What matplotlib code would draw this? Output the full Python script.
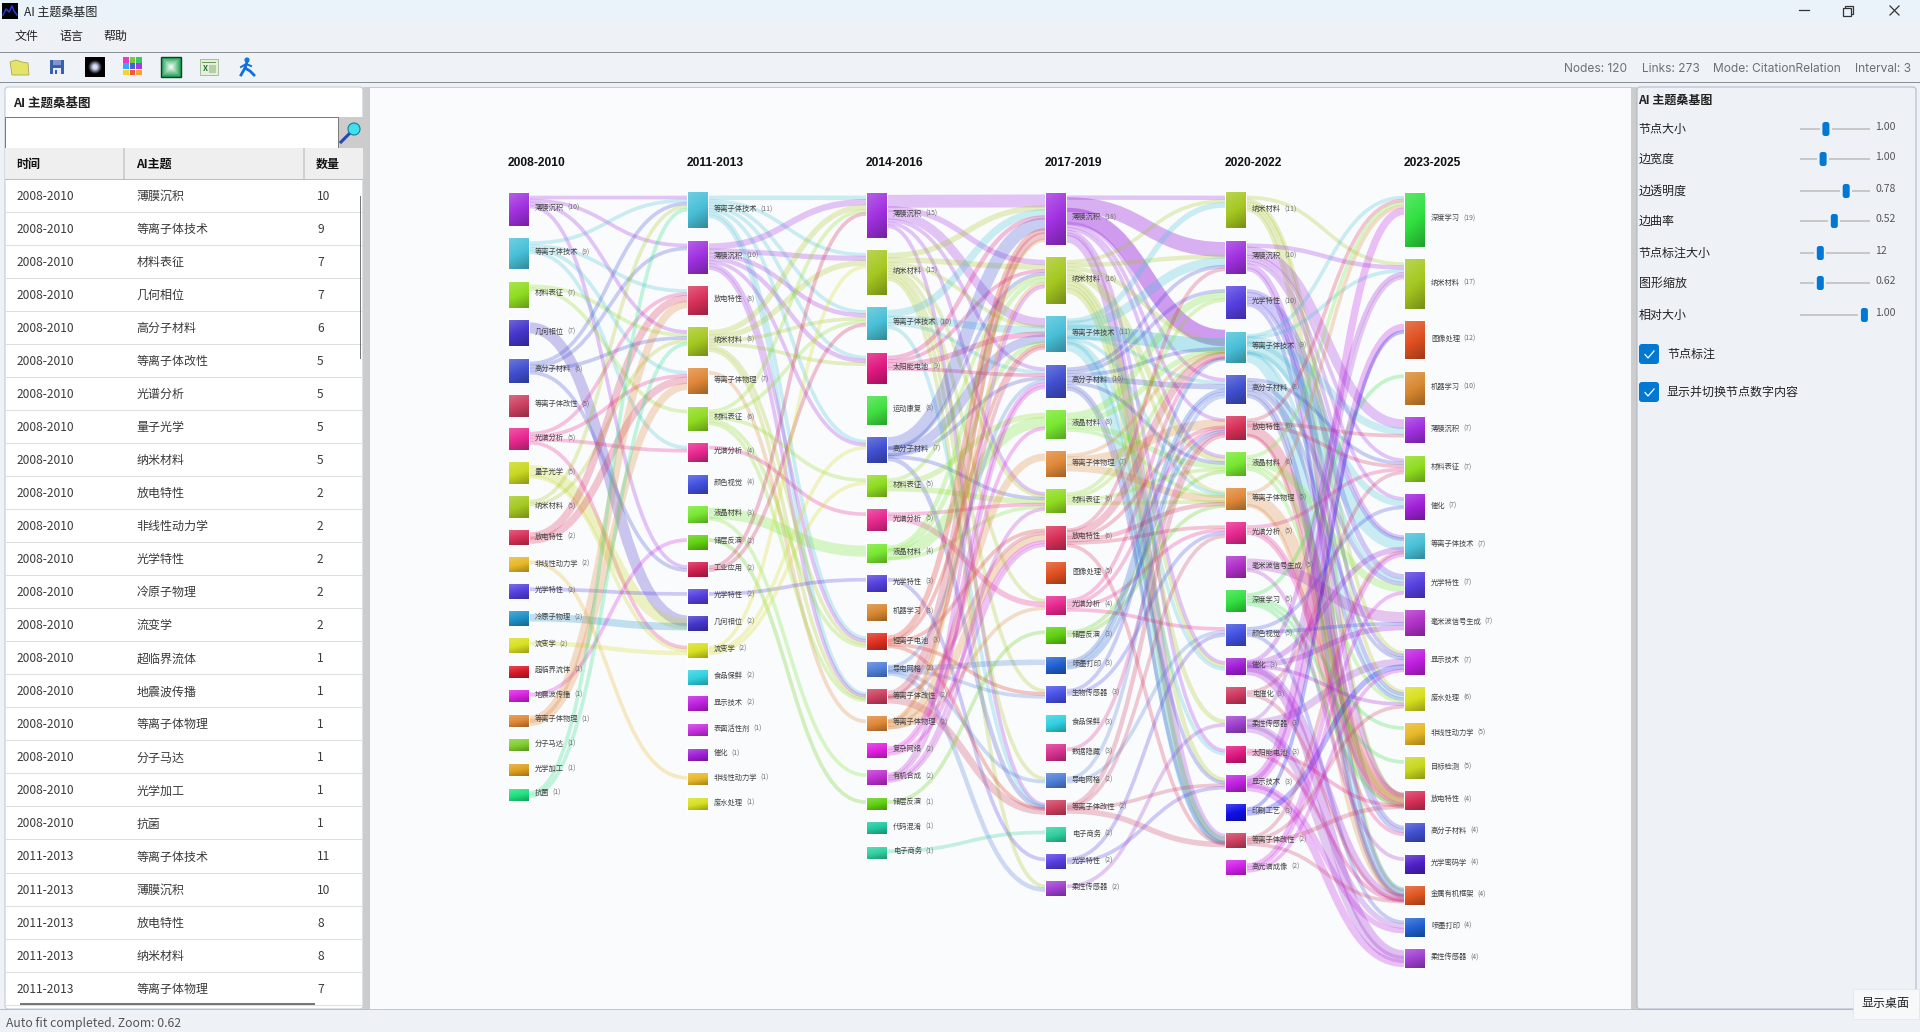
import numpy as np
import matplotlib
matplotlib.use('Agg')
import matplotlib.pyplot as plt
from matplotlib.patches import Rectangle, FancyBboxPatch, PathPatch, Circle, Polygon
from matplotlib.path import Path
from matplotlib.colors import to_rgb

plt.rcParams['font.family'] = ['Noto Sans CJK SC', 'DejaVu Sans']

# ---------- data ----------
periods = ['2008-2010', '2011-2013', '2014-2016', '2017-2019', '2020-2022', '2023-2025']

names_1 = ['薄膜沉积', '等离子体技术', '材料表征', '几何相位', '高分子材料', '等离子体改性', '光谱分析', '量子光学', '纳米材料', '放电特性',
           '非线性动力学', '光学特性', '冷原子物理', '流变学', '超临界流体', '地震波传播', '等离子体物理', '分子马达', '光学加工', '抗菌']
vals_1 = [10, 9, 7, 7, 6, 5, 5, 5, 5, 2, 2, 2, 2, 2, 1, 1, 1, 1, 1, 1]
names_2 = ['等离子体技术', '薄膜沉积', '放电特性', '纳米材料', '等离子体物理', '材料表征', '光谱分析', '颜色视觉', '液晶材料', '储层反演',
           '工业应用', '光学特性', '几何相位', '流变学', '食品保鲜', '显示技术', '表面活性剂', '催化', '非线性动力学', '废水处理']
vals_2 = [11, 10, 8, 8, 7, 6, 4, 4, 3, 2, 2, 2, 2, 2, 2, 2, 1, 1, 1, 1]
names_3 = ['薄膜沉积', '纳米材料', '等离子体技术', '太阳能电池', '运动康复', '高分子材料', '材料表征', '光谱分析', '液晶材料', '光学特性',
           '机器学习', '锂离子电池', '导电网格', '等离子体改性', '等离子体物理', '复杂网络', '有机合成', '储层反演', '代码混淆', '电子商务']
vals_3 = [15, 15, 10, 9, 8, 7, 5, 5, 4, 3, 3, 3, 2, 2, 2, 2, 2, 1, 1, 1]
names_4 = ['薄膜沉积', '纳米材料', '等离子体技术', '高分子材料', '液晶材料', '等离子体物理', '材料表征', '放电特性', '图像处理', '光谱分析',
           '储层反演', '喷墨打印', '生物传感器', '食品保鲜', '数据隐藏', '导电网格', '等离子体改性', '电子商务', '光学特性', '柔性传感器']
vals_4 = [18, 16, 11, 10, 8, 7, 6, 6, 5, 4, 3, 3, 3, 3, 3, 2, 2, 2, 2, 2]
names_5 = ['纳米材料', '薄膜沉积', '光学特性', '等离子体技术', '高分子材料', '放电特性', '液晶材料', '等离子体物理', '光谱分析', '毫米波信号生成',
           '深度学习', '颜色视觉', '催化', '电催化', '柔性传感器', '太阳能电池', '显示技术', '印刷工艺', '等离子体改性', '高光谱成像']
vals_5 = [11, 10, 10, 9, 8, 6, 6, 5, 5, 5, 5, 5, 3, 3, 3, 3, 3, 3, 2, 2]
names_6 = ['深度学习', '纳米材料', '图像处理', '机器学习', '薄膜沉积', '材料表征', '催化', '等离子体技术', '光学特性', '毫米波信号生成',
           '显示技术', '废水处理', '非线性动力学', '目标检测', '放电特性', '高分子材料', '光学密码学', '金属有机框架', '喷墨打印', '柔性传感器']
vals_6 = [19, 17, 12, 10, 7, 7, 7, 7, 7, 7, 7, 6, 5, 5, 4, 4, 4, 4, 4, 4]

links_12 = [
    ('薄膜沉积', '等离子体技术', 1), ('薄膜沉积', '薄膜沉积', 1), ('薄膜沉积', '纳米材料', 1), ('薄膜沉积', '工业应用', 1),
    ('等离子体技术', '等离子体技术', 1), ('等离子体技术', '放电特性', 1), ('等离子体技术', '等离子体物理', 1), ('等离子体技术', '光谱分析', 1),
    ('材料表征', '纳米材料', 1), ('材料表征', '材料表征', 1), ('几何相位', '几何相位', 3),
    ('高分子材料', '等离子体技术', 1), ('高分子材料', '薄膜沉积', 1), ('高分子材料', '纳米材料', 1), ('高分子材料', '工业应用', 1),
    ('光谱分析', '放电特性', 1), ('光谱分析', '等离子体物理', 1), ('光谱分析', '光谱分析', 1), ('光谱分析', '流变学', 1),
    ('量子光学', '几何相位', 3), ('量子光学', '流变学', 1),
    ('纳米材料', '等离子体技术', 1), ('纳米材料', '纳米材料', 1),
    ('放电特性', '放电特性', 2), ('放电特性', '等离子体物理', 2),
    ('非线性动力学', '非线性动力学', 1), ('光学特性', '光学特性', 1), ('冷原子物理', '几何相位', 2), ('流变学', '流变学', 1.2),
    ('地震波传播', '储层反演', 1), ('等离子体物理', '放电特性', 2), ('等离子体物理', '等离子体物理', 2),
    ('抗菌', '等离子体技术', 1), ('抗菌', '纳米材料', 1),
]
links_23 = [
    ('等离子体技术', '薄膜沉积', 1.2), ('等离子体技术', '纳米材料', 1), ('等离子体技术', '等离子体技术', 1), ('等离子体技术', '太阳能电池', 1),
    ('等离子体技术', '高分子材料', 1), ('等离子体技术', '锂离子电池', 1), ('等离子体技术', '等离子体改性', 1),
    ('薄膜沉积', '薄膜沉积', 1.7), ('薄膜沉积', '纳米材料', 1.4), ('薄膜沉积', '等离子体技术', 1.2), ('薄膜沉积', '太阳能电池', 1.2),
    ('薄膜沉积', '高分子材料', 1), ('薄膜沉积', '锂离子电池', 1), ('薄膜沉积', '等离子体改性', 1),
    ('纳米材料', '薄膜沉积', 1.5), ('纳米材料', '纳米材料', 1.5), ('纳米材料', '等离子体技术', 1), ('纳米材料', '太阳能电池', 1),
    ('纳米材料', '锂离子电池', 1), ('纳米材料', '等离子体改性', 1),
    ('等离子体物理', '等离子体物理', 1),
    ('材料表征', '薄膜沉积', 1), ('材料表征', '等离子体技术', 1), ('材料表征', '材料表征', 1), ('材料表征', '锂离子电池', 1), ('材料表征', '等离子体改性', 1),
    ('光谱分析', '光谱分析', 1), ('液晶材料', '液晶材料', 3), ('液晶材料', '有机合成', 1), ('储层反演', '储层反演', 1),
    ('工业应用', '薄膜沉积', 1), ('工业应用', '等离子体技术', 1), ('光学特性', '光学特性', 1),
    ('流变学', '纳米材料', 1), ('流变学', '高分子材料', 1), ('流变学', '材料表征', 1),
]
links_34 = [
    ('薄膜沉积', '薄膜沉积', 3.5), ('薄膜沉积', '纳米材料', 1.5), ('薄膜沉积', '等离子体技术', 2.5), ('薄膜沉积', '高分子材料', 1),
    ('薄膜沉积', '材料表征', 1), ('薄膜沉积', '等离子体改性', 1),
    ('纳米材料', '薄膜沉积', 1.5), ('纳米材料', '纳米材料', 1.5), ('纳米材料', '等离子体技术', 1), ('纳米材料', '材料表征', 1),
    ('纳米材料', '光谱分析', 1), ('纳米材料', '生物传感器', 1), ('纳米材料', '导电网格', 1), ('纳米材料', '柔性传感器', 1),
    ('等离子体技术', '薄膜沉积', 2), ('等离子体技术', '等离子体技术', 2), ('等离子体技术', '高分子材料', 1), ('等离子体技术', '等离子体改性', 1),
    ('太阳能电池', '薄膜沉积', 1.2), ('太阳能电池', '纳米材料', 1), ('太阳能电池', '等离子体技术', 1.5), ('太阳能电池', '高分子材料', 1),
    ('高分子材料', '薄膜沉积', 3.5), ('高分子材料', '纳米材料', 1), ('高分子材料', '等离子体技术', 2.5), ('高分子材料', '高分子材料', 1),
    ('高分子材料', '材料表征', 1), ('高分子材料', '等离子体改性', 1.2),
    ('材料表征', '纳米材料', 1), ('材料表征', '液晶材料', 1.5), ('材料表征', '材料表征', 1.5),
    ('光谱分析', '材料表征', 1), ('光谱分析', '光谱分析', 1.5),
    ('液晶材料', '纳米材料', 1.2), ('液晶材料', '等离子体技术', 1.2), ('液晶材料', '液晶材料', 3), ('液晶材料', '材料表征', 1),
    ('光学特性', '光学特性', 1),
    ('锂离子电池', '薄膜沉积', 1.5), ('锂离子电池', '等离子体技术', 1), ('锂离子电池', '放电特性', 1), ('锂离子电池', '生物传感器', 1), ('锂离子电池', '等离子体改性', 1),
    ('导电网格', '高分子材料', 1), ('导电网格', '喷墨打印', 1.5), ('导电网格', '生物传感器', 1), ('导电网格', '导电网格', 1), ('导电网格', '柔性传感器', 1.2),
    ('等离子体改性', '薄膜沉积', 2), ('等离子体改性', '等离子体技术', 1), ('等离子体改性', '放电特性', 1), ('等离子体改性', '等离子体改性', 2),
    ('等离子体物理', '薄膜沉积', 1), ('等离子体物理', '纳米材料', 1), ('等离子体物理', '放电特性', 2), ('等离子体物理', '光谱分析', 1), ('等离子体物理', '等离子体物理', 2),
    ('复杂网络', '高分子材料', 1), ('复杂网络', '液晶材料', 1), ('复杂网络', '放电特性', 1),
    ('有机合成', '纳米材料', 1), ('有机合成', '高分子材料', 1), ('有机合成', '材料表征', 1), ('有机合成', '放电特性', 1),
    ('储层反演', '储层反演', 1), ('电子商务', '电子商务', 1),
]
links_45 = [
    ('薄膜沉积', '纳米材料', 1.2), ('薄膜沉积', '薄膜沉积', 4), ('薄膜沉积', '等离子体技术', 4.5), ('薄膜沉积', '高分子材料', 1),
    ('薄膜沉积', '放电特性', 1), ('薄膜沉积', '液晶材料', 1), ('薄膜沉积', '催化', 1), ('薄膜沉积', '太阳能电池', 1), ('薄膜沉积', '等离子体改性', 2.2),
    ('纳米材料', '纳米材料', 1), ('纳米材料', '薄膜沉积', 1.2), ('纳米材料', '等离子体技术', 1.2), ('纳米材料', '液晶材料', 1.5),
    ('纳米材料', '等离子体物理', 1), ('纳米材料', '柔性传感器', 1.2), ('纳米材料', '显示技术', 1.2), ('纳米材料', '催化', 1), ('纳米材料', '等离子体改性', 1.5),
    ('等离子体技术', '纳米材料', 1.5), ('等离子体技术', '薄膜沉积', 2.5), ('等离子体技术', '等离子体技术', 4), ('等离子体技术', '高分子材料', 1),
    ('等离子体技术', '等离子体物理', 1), ('等离子体技术', '催化', 1), ('等离子体技术', '太阳能电池', 1), ('等离子体技术', '等离子体改性', 2.5),
    ('高分子材料', '薄膜沉积', 1), ('高分子材料', '光学特性', 1), ('高分子材料', '等离子体技术', 1), ('高分子材料', '高分子材料', 1.5),
    ('高分子材料', '液晶材料', 1), ('高分子材料', '显示技术', 1), ('高分子材料', '等离子体改性', 1),
    ('液晶材料', '光学特性', 2), ('液晶材料', '等离子体技术', 1.5), ('液晶材料', '液晶材料', 1.5), ('液晶材料', '等离子体物理', 1),
    ('等离子体物理', '等离子体技术', 1), ('等离子体物理', '放电特性', 2.5), ('等离子体物理', '等离子体物理', 2),
    ('材料表征', '光学特性', 1), ('材料表征', '等离子体技术', 1), ('材料表征', '液晶材料', 1), ('材料表征', '等离子体物理', 1),
    ('放电特性', '薄膜沉积', 1), ('放电特性', '等离子体技术', 2), ('放电特性', '放电特性', 1), ('放电特性', '等离子体物理', 1.2), ('放电特性', '光谱分析', 1), ('放电特性', '等离子体改性', 1),
    ('光谱分析', '等离子体技术', 1), ('光谱分析', '放电特性', 1), ('光谱分析', '光谱分析', 1), ('光谱分析', '颜色视觉', 1),
    ('储层反演', '液晶材料', 1), ('储层反演', '等离子体物理', 1),
    ('喷墨打印', '高分子材料', 1), ('喷墨打印', '等离子体技术', 1), ('喷墨打印', '放电特性', 1),
    ('生物传感器', '高分子材料', 1), ('生物传感器', '光谱分析', 1), ('数据隐藏', '放电特性', 1),
    ('导电网格', '高分子材料', 1), ('导电网格', '颜色视觉', 1),
    ('等离子体改性', '放电特性', 1.2), ('等离子体改性', '光谱分析', 1), ('等离子体改性', '显示技术', 1), ('等离子体改性', '等离子体改性', 1.5),
    ('光学特性', '颜色视觉', 1), ('光学特性', '显示技术', 1), ('柔性传感器', '柔性传感器', 1),
]
links_56 = [
    ('纳米材料', '纳米材料', 1), ('纳米材料', '废水处理', 1), ('纳米材料', '显示技术', 1), ('纳米材料', '放电特性', 1), ('纳米材料', '金属有机框架', 1),
    ('薄膜沉积', '纳米材料', 1.2), ('薄膜沉积', '薄膜沉积', 2.6), ('薄膜沉积', '材料表征', 1), ('薄膜沉积', '催化', 1), ('薄膜沉积', '等离子体技术', 1), ('薄膜沉积', '放电特性', 1.4), ('薄膜沉积', '金属有机框架', 1),
    ('光学特性', '等离子体技术', 1), ('光学特性', '光学特性', 1.5), ('光学特性', '显示技术', 1), ('光学特性', '废水处理', 1), ('光学特性', '高分子材料', 1),
    ('等离子体技术', '深度学习', 1), ('等离子体技术', '纳米材料', 1), ('等离子体技术', '薄膜沉积', 2), ('等离子体技术', '催化', 1.8),
    ('等离子体技术', '等离子体技术', 3.5), ('等离子体技术', '光学特性', 1), ('等离子体技术', '废水处理', 1), ('等离子体技术', '金属有机框架', 3),
    ('高分子材料', '材料表征', 1), ('高分子材料', '光学特性', 1.2), ('高分子材料', '显示技术', 1), ('高分子材料', '废水处理', 1), ('高分子材料', '高分子材料', 1.2), ('高分子材料', '金属有机框架', 1),
    ('放电特性', '深度学习', 1), ('放电特性', '薄膜沉积', 1), ('放电特性', '材料表征', 1), ('放电特性', '放电特性', 3), ('放电特性', '金属有机框架', 1),
    ('液晶材料', '深度学习', 1), ('液晶材料', '光学特性', 2), ('液晶材料', '废水处理', 1), ('液晶材料', '放电特性', 1),
    ('等离子体物理', '深度学习', 1), ('等离子体物理', '放电特性', 3.5), ('等离子体物理', '金属有机框架', 1),
    ('光谱分析', '放电特性', 1), ('光谱分析', '材料表征', 1), ('光谱分析', '高分子材料', 1),
    ('毫米波信号生成', '毫米波信号生成', 3), ('毫米波信号生成', '光学密码学', 1),
    ('深度学习', '机器学习', 1), ('深度学习', '非线性动力学', 1), ('深度学习', '目标检测', 1), ('深度学习', '放电特性', 1),
    ('颜色视觉', '催化', 1), ('颜色视觉', '毫米波信号生成', 1), ('颜色视觉', '喷墨打印', 1),
    ('催化', '纳米材料', 1.2), ('催化', '等离子体技术', 1.5), ('催化', '毫米波信号生成', 1.5), ('催化', '废水处理', 1), ('催化', '金属有机框架', 2), ('催化', '柔性传感器', 2.5),
    ('电催化', '材料表征', 1), ('电催化', '金属有机框架', 1),
    ('柔性传感器', '纳米材料', 1), ('柔性传感器', '显示技术', 2), ('柔性传感器', '喷墨打印', 1.5), ('柔性传感器', '柔性传感器', 2),
    ('太阳能电池', '放电特性', 1), ('太阳能电池', '金属有机框架', 1),
    ('显示技术', '深度学习', 2), ('显示技术', '图像处理', 2), ('显示技术', '喷墨打印', 1.5), ('显示技术', '柔性传感器', 2),
    ('印刷工艺', '图像处理', 1), ('印刷工艺', '显示技术', 1.5),
    ('等离子体改性', '等离子体技术', 1), ('等离子体改性', '废水处理', 1), ('等离子体改性', '放电特性', 1.2), ('等离子体改性', '金属有机框架', 1),
    ('高光谱成像', '等离子体技术', 1.2), ('高光谱成像', '光学特性', 1), ('高光谱成像', '显示技术', 1),
]

palette = {
    '薄膜沉积': '#A030E0', '等离子体技术': '#48C0D8', '材料表征': '#8FDC20', '几何相位': '#4535CC', '高分子材料': '#4050D0',
    '等离子体改性': '#CC4060', '光谱分析': '#E82890', '量子光学': '#C8D820', '纳米材料': '#A5C820', '放电特性': '#D83058',
    '非线性动力学': '#E8B828', '光学特性': '#5540E0', '冷原子物理': '#2090C8', '流变学': '#D8E020', '超临界流体': '#D81828',
    '地震波传播': '#D820E0', '等离子体物理': '#E08838', '分子马达': '#80D030', '光学加工': '#E0A020', '抗菌': '#20E080',
    '颜色视觉': '#4050E0', '液晶材料': '#78E830', '储层反演': '#60D010', '工业应用': '#D02050', '食品保鲜': '#30D0E0',
    '显示技术': '#C020E0', '表面活性剂': '#C830E0', '催化': '#A020D8', '废水处理': '#D8E020', '太阳能电池': '#E01880',
    '运动康复': '#40E040', '机器学习': '#D88830', '锂离子电池': '#E03020', '导电网格': '#5080D8', '复杂网络': '#E020E0',
    '有机合成': '#C030D0', '代码混淆': '#20C8A0', '电子商务': '#30D0A0', '图像处理': '#E05020', '喷墨打印': '#2060D0',
    '生物传感器': '#4850E8', '数据隐藏': '#D83090', '柔性传感器': '#A040D0', '毫米波信号生成': '#B030C8', '深度学习': '#30E040',
    '电催化': '#D03860', '印刷工艺': '#1010E8', '高光谱成像': '#D020E8', '目标检测': '#C8D820', '光学密码学': '#5020C8',
    '金属有机框架': '#E05520',
}

table_rows = [(periods[0], n, v) for n, v in zip(names_1, vals_1)] + \
             [(periods[1], n, v) for n, v in zip(names_2[:5], vals_2[:5])]
sliders = [('节点大小', 0.37, '1.00'), ('边宽度', 0.33, '1.00'), ('边透明度', 0.66, '0.78'), ('边曲率', 0.49, '0.52'),
           ('节点标注大小', 0.29, '12'), ('图形缩放', 0.29, '0.62'), ('相对大小', 0.92, '1.00')]
status_items = [('Nodes: 120', 1564), ('Links: 273', 1642), ('Mode: CitationRelation', 1713), ('Interval: 3', 1855)]

# ---------- canvas ----------
fig = plt.figure(figsize=(19.2, 10.32), dpi=100, facecolor='#EEF2F7')
ax = fig.add_axes([0, 0, 1, 1])
ax.set_xlim(0, 1920)
ax.set_ylim(1032, 0)
ax.set_autoscale_on(False)
ax.axis('off')
PX = 0.72


def rect(x, y, w, h, fc, ec='none', lw=0, z=1):
    ax.add_patch(Rectangle((x, y), w, h, facecolor=fc, edgecolor=ec, linewidth=lw, zorder=z))


def rrect(x, y, w, h, r, fc, ec='none', lw=0, z=1):
    ax.add_patch(FancyBboxPatch((x + r, y + r), w - 2 * r, h - 2 * r, boxstyle=f'round,pad={r}',
                                facecolor=fc, edgecolor=ec, linewidth=lw, zorder=z, mutation_aspect=1))


def txt(x, y, s, size=12, color='#222222', weight='normal', ha='left', va='center', z=6, **kw):
    return ax.text(x, y, s, fontsize=size * PX, color=color, fontweight=weight, ha=ha, va=va, zorder=z, **kw)


# chrome
rect(0, 0, 1920, 22, '#EAF2FA')
rect(0, 22, 1920, 30, '#EEF2F7')
rect(0, 52, 1920, 1, '#8A8F96', z=2)
rect(0, 53, 1920, 29, '#EFF3F8')
rect(0, 82, 1920, 1, '#8A8F96', z=2)
rect(0, 83, 1920, 927, '#EEF2F7')
rect(0, 1010, 1920, 22, '#EEF2F7')
rect(0, 1009, 1920, 1, '#B8BEC6', z=2)

# window icon + title
rect(2, 3, 16, 16, '#000000', z=3)
ax.plot([3, 6, 9, 12, 14, 17], [15, 9, 12, 6, 11, 15], color='#2838E8', lw=1.1, zorder=4)
txt(24, 12, 'AI 主题桑基图', 12, '#222222')
for x, s in zip([15, 59, 103], ['文件', '语言', '帮助']):
    txt(x, 36.5, s, 12, '#222222')
ax.plot([1799, 1809], [10, 10], color='#333333', lw=0.9, zorder=4)
rect(1845, 6, 8, 8, 'none', '#333333', 0.9, 4)
rect(1843, 8, 8, 8, '#EAF2FA', '#333333', 0.9, 5)
ax.plot([1890, 1899], [6, 15], color='#333333', lw=0.9, zorder=4)
ax.plot([1890, 1899], [15, 6], color='#333333', lw=0.9, zorder=4)

# toolbar icons
ax.add_patch(Polygon([(10, 62), (16, 60), (22, 62), (28, 63), (29, 75), (12, 75)], facecolor='#E4E36A', edgecolor='#A8A850', linewidth=0.6, zorder=4))
rect(50, 60, 14, 14, '#3A5FB0', z=4)
rect(53, 60, 8, 4.5, '#7E96CC', z=5)
rect(53, 68, 8, 6, '#E8ECF4', z=5)
rect(55, 69.5, 2, 4.5, '#3A5FB0', z=6)
yy, xx = np.mgrid[-1:1:40j, -1:1:40j]
rr = np.sqrt(xx ** 2 + yy ** 2)
glow = np.clip(1.4 - 2 * rr, 0, 1)
ax.imshow(np.dstack([glow * 0.85, glow * 0.88, glow]), extent=(85, 105, 77, 57), zorder=4, aspect='auto', interpolation='bilinear')
grid_cols = ['#E838C8', '#7CC83C', '#38C868', '#38A8F0', '#4860D8', '#A838E8', '#F8D030', '#F05838', '#F8A030']
for i, c in enumerate(grid_cols):
    rect(123 + (i % 3) * 6.5, 57 + (i // 3) * 6.3, 5.8, 5.6, c, z=4)
square = np.maximum(np.abs(xx), np.abs(yy))
sq = np.clip(square, 0, 1)[..., None]
ax.imshow(np.array(to_rgb('#FFFFFF')) * (1 - sq) + np.array(to_rgb('#18A050')) * sq, extent=(161, 181, 77, 57), zorder=4, aspect='auto', interpolation='bilinear')
rect(161, 57, 20, 20, 'none', '#104020', 1, 5)
rect(200, 59, 18, 16, '#E4EFDC', '#90A880', 0.5, 4)
rect(202, 62, 14, 1.2, '#6A9A58', z=5)
rect(209, 65, 7, 8, '#B4CFA2', z=5)
txt(205.5, 68.5, 'X', 8, '#207030', 'bold', 'center', z=6)
ax.add_patch(Circle((247, 60), 2.6, facecolor='#1078E0', zorder=4))
ax.plot([247, 245, 250, 254], [62, 68, 71, 75], color='#1070D8', lw=2, zorder=4)
ax.plot([245, 241], [68, 75], color='#1070D8', lw=2, zorder=4)
ax.plot([241, 246, 251], [67, 64, 66], color='#1070D8', lw=1.4, zorder=4)

for s, x in status_items:
    t = txt(x, 69, s, 12, '#6B7078')
    t.set_fontfamily(['Inter', 'DejaVu Sans'])

# left panel
rrect(5, 87, 358, 922, 3, '#FFFFFF', '#B8C4D4', 0.7, 2)
rect(363, 87, 6, 922, '#CCCCCC', z=2)
txt(13, 103, 'AI 主题桑基图', 12.5, '#222222', 'bold')
rect(5, 117, 333, 31, '#FFFFFF', '#777777', 0.7, 3)
rect(339, 117, 24, 31, '#CCCCCC', z=3)
ax.plot([341, 350], [142, 133], color='#2848B0', lw=2.2, zorder=4)
ax.add_patch(Circle((354, 129), 6, facecolor='#40E0F0', edgecolor='#108090', linewidth=0.8, zorder=5))
rect(5, 148, 358, 31, '#EFEFEF', z=3)
rect(5, 179, 358, 1, '#BDBDBD', z=3)
rect(123, 148, 2, 31, '#D0D0D0', z=4)
rect(303, 148, 2, 31, '#D0D0D0', z=4)
for x, s in zip([17, 137, 317], ['时间', 'AI主题', '数量']):
    txt(x - 1, 164, s, 12, '#111111', 'bold')
for i, (period, name, v) in enumerate(table_rows):
    cy = 196 + i * 33.05
    if cy > 1000:
        break
    txt(17, cy, period, 12, '#3A3A3A')
    txt(136.5, cy, name, 12, '#3A3A3A')
    txt(317, cy, str(v), 12, '#3A3A3A')
    rect(5, cy + 15.5, 358, 1, '#DDDDDD', z=3)
rect(359.5, 196, 1.6, 163, '#777777', z=5)
rect(20, 1003, 295, 1.6, '#777777', z=5)

# canvas panel
rect(369, 87, 1262, 922, '#FAFBFD', '#B8C4D4', 0.6, 2)
rect(1631, 87, 6, 922, '#CCCCCC', z=2)

# right panel
rrect(1637, 87, 279, 922, 3, '#EEF2F7', '#A8B4C4', 0.7, 2)
txt(1638.5, 100, 'AI 主题桑基图', 12, '#222222', 'bold')
slider_y = [129, 159, 191, 221, 253, 283, 315]
for (lab, frac, val), y in zip(sliders, slider_y):
    txt(1638.5, y, lab, 12, '#222222')
    hx = 1800 + frac * 70
    rect(1800, y - 1, 70, 2, '#C8C8C8', z=3)
    rect(hx - 6, y - 3, 12, 6, '#EEF2F7', z=4)
    rrect(hx - 3.5, y - 7, 7, 14, 2.5, '#0078D4', z=5)
    txt(1875, y - 2.5, val, 10.5, '#555555')
for y, lab in zip([344, 382], ['节点标注', '显示并切换节点数字内容']):
    rrect(1639, y, 20, 20, 3, '#0078D4', z=4)
    ax.plot([1645, 1648, 1654], [y + 10.5, y + 14, y + 7], color='white', lw=0.9, zorder=5)
    txt(1667, y + 10, lab, 12, '#222222')

txt(6, 1023, 'Auto fit completed. Zoom: 0.62', 12.2, '#555555')
rect(1853, 989, 66, 30, '#F7F8FA', '#E0E0E0', 0.4, 7)
txt(1886, 1004, '显示桌面', 12, '#222222', ha='center', z=8)

# ---------- sankey ----------
all_names = [names_1, names_2, names_3, names_4, names_5, names_6]
all_vals = [vals_1, vals_2, vals_3, vals_4, vals_5, vals_6]
all_links = [links_12, links_23, links_34, links_45, links_56]
col_x = [509, 688, 867, 1046, 1226, 1405]
NODE_W, TOP, GAP = 20, 193, 12.6
H0, HK = 9.67, 2.33
UNIT = 3.7
ALPHA = 0.27

layout = []
for names, vals in zip(all_names, all_vals):
    col = {}
    y = TOP
    for i, (n, v) in enumerate(zip(names, vals)):
        h = H0 + HK * v
        col[n] = (y, h, i)
        y += h + GAP
    layout.append(col)


def stack(links, col, key, other_col, other_key):
    """Return a y centre for each link end at its node, ordered by the far node."""
    ys = {}
    for name, (top, h, _) in col.items():
        ids = [i for i, l in enumerate(links) if l[key] == name]
        ids.sort(key=lambda i: layout[other_col][links[i][other_key]][2])
        if not ids:
            continue
        widths = [links[i][2] * UNIT for i in ids]
        step = 0.82
        total = sum(widths) * step
        avail = h - 6
        if total > avail:
            step *= avail / total
        y = top + 3
        for i, w in zip(ids, widths):
            ys[i] = y + w * step / 2
            y += w * step
    return ys


for c, links in enumerate(all_links):
    out_y = stack(links, layout[c], 0, c + 1, 1)
    in_y = stack(links, layout[c + 1], 1, c, 0)
    x0, x1 = col_x[c] + NODE_W + 1, col_x[c + 1] - 1
    mx = (x1 - x0) * 0.5
    for i, (s, t, w) in enumerate(links):
        y0, y1 = out_y[i], in_y[i]
        p = Path([(x0, y0), (x0 + mx, y0), (x1 - mx, y1), (x1, y1)],
                 [Path.MOVETO, Path.CURVE4, Path.CURVE4, Path.CURVE4])
        ax.add_patch(PathPatch(p, fill=False, edgecolor=palette[s], alpha=ALPHA + 0.2 * max(0, w - 3.5),
                               linewidth=w * UNIT * PX, capstyle='butt', zorder=3))


def node_image(color):
    c = np.array(to_rgb(color))
    v, u = np.mgrid[0:1:16j, 0:1:16j]
    t = 0.75 * v + 0.25 * u
    light = c + (1 - c) * 0.22
    dark = c * 0.72
    t = t[..., None]
    return np.where(t < 0.5, light + (c - light) * (t / 0.5), c + (dark - c) * ((t - 0.5) / 0.5))


fig.canvas.draw()
renderer = fig.canvas.get_renderer()
for c, col in enumerate(layout):
    x = col_x[c]
    txt(x - 1, 162.5, periods[c], 12, '#111111', 'bold', family=['Liberation Sans', 'DejaVu Sans'])
    for (name, (top, h, idx)), v in zip(col.items(), all_vals[c]):
        rect(x - 1, top - 1, NODE_W + 2, h + 2, '#FFFFFF', z=4)
        ax.imshow(node_image(palette[name]), extent=(x, x + NODE_W, top + h, top), zorder=5,
                  aspect='auto', interpolation='bilinear')
        t = txt(x + NODE_W + 6, top + h / 2 - 1.5, name, 7.3, '#444444', z=7)
        bb = t.get_window_extent(renderer)
        txt(bb.x1 + 3, top + h / 2 - 1.5, f'({v})', 6.8, '#6E6E6E', z=7)

ax.set_xlim(0, 1920)
ax.set_ylim(1032, 0)
fig.savefig('out.png', dpi=100, facecolor=fig.get_facecolor())
